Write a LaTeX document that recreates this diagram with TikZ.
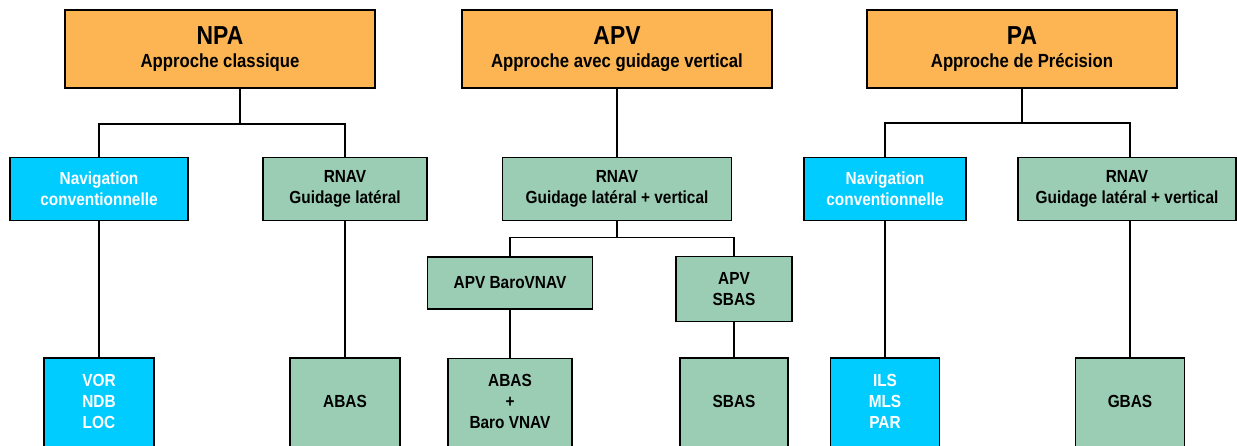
\documentclass[tikz,border=0pt]{standalone}
\usepackage{fontspec}
\setmainfont[FakeStretch=0.88]{Liberation Sans}
\usetikzlibrary{positioning}
\definecolor{orangeApp}{RGB}{252,181,82}
\definecolor{vertRnav}{RGB}{154,205,180}
\definecolor{cyanConv}{RGB}{0,204,255}
\begin{document}
\begin{tikzpicture}[x=1pt,y=-1pt,
        head/.style={draw=black,line width=1.6pt,fill=orangeApp,minimum width=310pt,minimum height=78pt,align=center,inner sep=0pt},
        conv/.style={draw=black,line width=1.6pt,fill=cyanConv,text=white,align=center,inner sep=0pt,font=\bfseries\fontsize{17.5}{21}\selectfont},
        rnav/.style={draw=black,line width=1.6pt,fill=vertRnav,text=black,align=center,inner sep=0pt,font=\bfseries\fontsize{17.5}{21}\selectfont},
        tall/.style={minimum height=103pt,text depth=17pt},
        link/.style={line width=1.4pt,black}
      ]
        \useasboundingbox (0,0) rectangle (1237,445);
        \clip (0,0) rectangle (1237,445);
        % niveaux d'approche
        \node[head] (npa) at (220,49) {\bfseries\fontsize{26}{26}\selectfont NPA\\[8pt]\bfseries\fontsize{19}{19}\selectfont Approche classique};
        \node[head] (apv) at (617,49) {\bfseries\fontsize{26}{26}\selectfont APV\\[8pt]\bfseries\fontsize{19}{19}\selectfont Approche avec guidage vertical};
        \node[head] (pa) at (1022,49) {\bfseries\fontsize{26}{26}\selectfont PA\\[8pt]\bfseries\fontsize{19}{19}\selectfont Approche de Précision};
        % moyens de guidage
        \node[conv,minimum width=178pt,minimum height=63pt] (navA) at (99,189) {Navigation\\conventionnelle};
        \node[rnav,minimum width=164pt,minimum height=63pt] (rnavA) at (345,189) {RNAV\\Guidage latéral};
        \node[rnav,minimum width=229pt,minimum height=63pt] (rnavB) at (617,189) {RNAV\\Guidage latéral + vertical};
        \node[conv,minimum width=162pt,minimum height=63pt] (navC) at (885,189) {Navigation\\conventionnelle};
        \node[rnav,minimum width=218pt,minimum height=63pt] (rnavC) at (1127,189) {RNAV\\Guidage latéral + vertical};
        \node[rnav,minimum width=165pt,minimum height=52pt] (baro) at (510,283) {APV BaroVNAV};
        \node[rnav,minimum width=116pt,minimum height=65pt] (sbasA) at (734,289) {APV\\SBAS};
        % systemes
        \node[conv,tall,minimum width=110pt,below=136pt of navA] (vor) {VOR\\NDB\\LOC};
        \node[rnav,tall,minimum width=110pt,below=136pt of rnavA] (abas) {ABAS};
        \node[rnav,tall,minimum width=124pt,below=48pt of baro] (abvnav) {ABAS\\+\\Baro VNAV};
        \node[rnav,tall,minimum width=108pt,below=35pt of sbasA] (sbasB) {SBAS};
        \node[conv,tall,minimum width=109pt,below=136pt of navC] (ils) {ILS\\MLS\\PAR};
        \node[rnav,tall,minimum width=109pt,below=136pt of rnavC,xshift=3pt] (gbas) {GBAS};
        % liaisons
        \draw[link] ([xshift=20pt]npa.south) -- ++(0,35) coordinate (npaj);
        \draw[link] (navA.north) |- (npaj) -| (rnavA.north);
        \draw[link] (apv.south) -- (rnavB.north);
        \draw[link] (pa.south) -- ++(0,34) coordinate (paj);
        \draw[link] (navC.north) |- (paj) -| ([xshift=3pt]rnavC.north);
        \draw[link] (rnavB.south) -- ++(0,16) coordinate (apvj);
        \draw[link] (baro.north) |- (apvj) -| (sbasA.north);
        \draw[link] (navA) -- (vor);
        \draw[link] (rnavA) -- (abas);
        \draw[link] (baro) -- (abvnav);
        \draw[link] (sbasA) -- (sbasB);
        \draw[link] (navC) -- (ils);
        \draw[link] ([xshift=3pt]rnavC.south) -- (gbas.north);
      \end{tikzpicture}
\end{document}
